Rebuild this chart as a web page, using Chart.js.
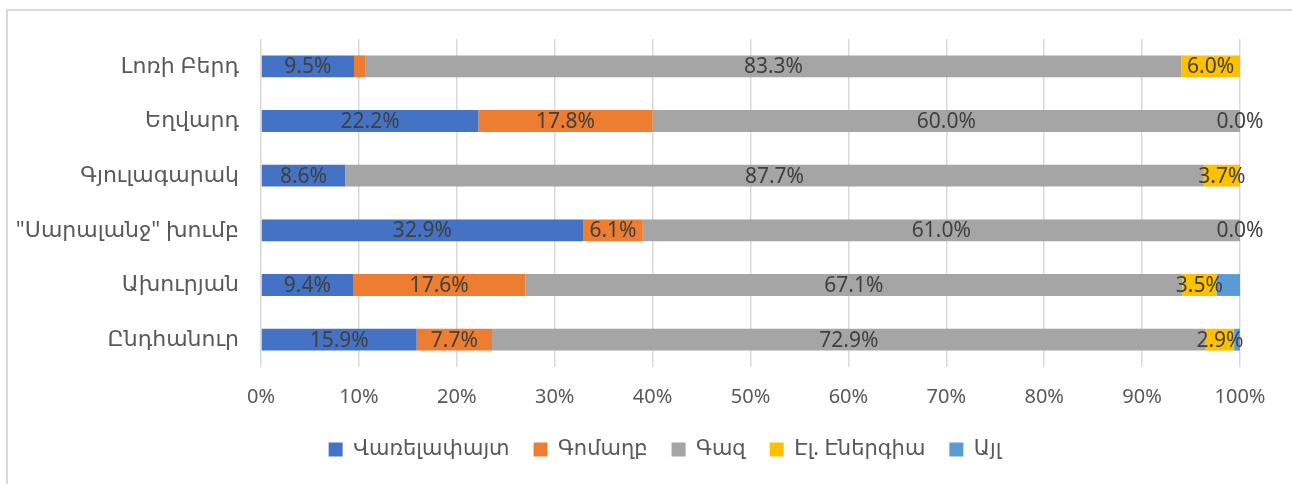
<!DOCTYPE html>
<html>
<head>
<meta charset="utf-8">
<script src="https://cdn.jsdelivr.net/npm/chart.js@4/dist/chart.umd.min.js"></script>
<style>
  html, body { margin: 0; padding: 0; background: #fff; overflow: hidden; }
  #wrap { position: relative; width: 1292px; height: 484px; }
  #frame { position: absolute; left: 6px; top: 9px; width: 1320px; height: 520px; border: 2px solid #d9d9d9; box-sizing: border-box; }
  canvas { position: absolute; left: 0; top: 0; }
</style>
</head>
<body>
<div id="wrap">
  <div id="frame"></div>
  <canvas id="chart" width="1292" height="484"></canvas>
</div>
<script>
'use strict';
// categories (top to bottom)
var categories = ['Լոռի Բերդ', 'Եղվարդ', 'Գյուլագարակ', '"Սարալանջ" խումբ', 'Ախուրյան', 'Ընդհանուր'];
var seriesNames = ['Վառելափայտ', 'Գոմաղբ', 'Գազ', 'Էլ. Էներգիա', 'Այլ'];
// shares, %
var firewood = [9.5, 22.2, 8.6, 32.9, 9.4, 15.9];
var manure   = [1.2, 17.8, null, 6.1, 17.6, 7.7];
var gas      = [83.3, 60.0, 87.7, 61.0, 67.1, 72.9];
var electric = [6.0, 0.0, 3.7, 0.0, 3.5, 2.9];
var other    = [null, null, null, null, 2.4, 0.6];
var xTicks = [0, 10, 20, 30, 40, 50, 60, 70, 80, 90, 100];

var colors = ['#4472C4', '#ED7D31', '#A5A5A5', '#FFC000', '#5B9BD5'];
var FONT = '"Noto Sans", "DejaVu Sans", sans-serif';

var allSeries = [firewood, manure, gas, electric, other];
var datasets = allSeries.map(function (vals, i) {
    return {
        label: seriesNames[i],
        data: vals,
        backgroundColor: colors[i],
        borderWidth: 0,
        barPercentage: 0.4,
        categoryPercentage: 1
    };
});

// value labels in the middle of each segment (small ones are left out, as in the original)
var segLabels = {
    id: 'segLabels',
    afterDatasetsDraw: function (chart) {
        var ctx = chart.ctx;
        ctx.save();
        ctx.font = '21px ' + FONT;
        ctx.fillStyle = '#404040';
        ctx.textAlign = 'center';
        ctx.textBaseline = 'middle';
        chart.data.datasets.forEach(function (ds, di) {
            var meta = chart.getDatasetMeta(di);
            meta.data.forEach(function (bar, j) {
                var v = ds.data[j];
                if (v === null || (v > 0 && v < 2.5)) return;
                var p = bar.getProps(['x', 'y', 'base'], true);
                ctx.fillText(v.toFixed(1) + '%', (p.x + p.base) / 2, p.y + 1);
            });
        });
        ctx.restore();
    }
};

// the legend sits a bit right of the canvas centre in the original
var legendShift = {
    id: 'legendShift',
    afterLayout: function (chart) {
        chart.legend.left += 45;
        chart.legend.right += 45;
    }
};

var chart = new Chart(document.getElementById('chart'), {
    type: 'bar',
    data: { labels: categories, datasets: datasets },
    plugins: [segLabels, legendShift],
    options: {
        indexAxis: 'y',
        responsive: false,
        animation: false,
        layout: { padding: { top: 39, right: 52, left: 0, bottom: 14 } },
        scales: {
            x: {
                stacked: true,
                min: 0,
                max: 100,
                afterBuildTicks: function (axis) {
                    axis.ticks = xTicks.map(function (v) { return { value: v }; });
                },
                afterFit: function (axis) { axis.height = 48; },
                grid: { color: '#d9d9d9', lineWidth: 1.5, drawTicks: false },
                border: { display: false },
                ticks: {
                    padding: 18,
                    color: '#595959',
                    font: { family: FONT, size: 20 },
                    callback: function (v) { return v + '%'; }
                }
            },
            y: {
                stacked: true,
                afterFit: function (axis) { axis.width = 261; },
                grid: { display: false, drawTicks: false },
                border: { display: false },
                ticks: {
                    padding: 22,
                    color: '#595959',
                    font: { family: FONT, size: 22 }
                }
            }
        },
        plugins: {
            tooltip: { enabled: false },
            legend: {
                position: 'bottom',
                labels: {
                    boxWidth: 14,
                    boxHeight: 14,
                    padding: 24,
                    color: '#595959',
                    font: { family: FONT, size: 21 }
                }
            }
        }
    }
});
</script>
</body>
</html>
